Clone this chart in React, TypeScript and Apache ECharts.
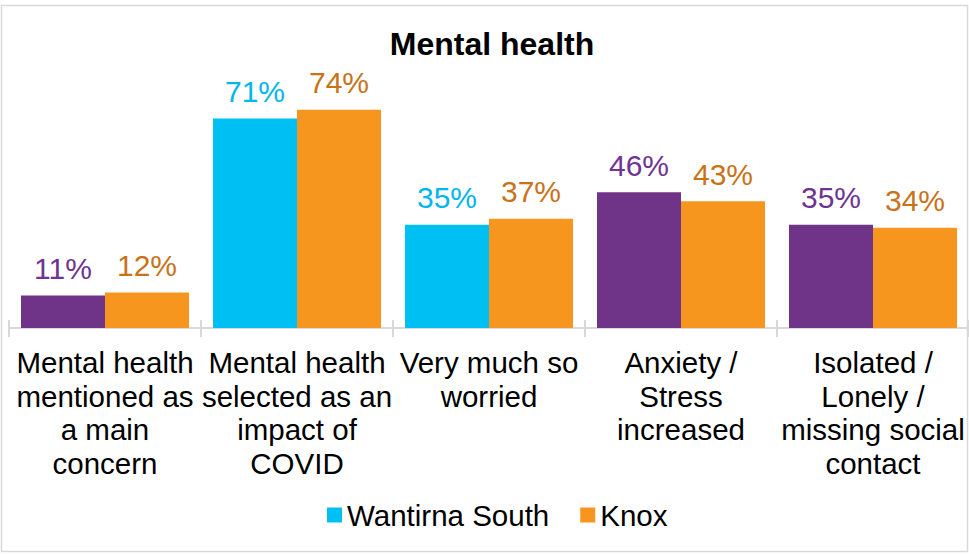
import React, { useEffect, useRef } from "react";
import * as echarts from "echarts";

const categories = [
  "Mental health\nmentioned as\na main\nconcern",
  "Mental health\nselected as an\nimpact of\nCOVID",
  "Very much so\nworried",
  "Anxiety /\nStress\nincreased",
  "Isolated /\nLonely /\nmissing social\ncontact",
];
const wantirnaSouth = [11, 71, 35, 46, 35];
const knox = [12, 74, 37, 43, 34];
const purpleIdx = [0, 3, 4];

const FONT = '"Liberation Sans", Arial, sans-serif';
const CYAN = "#00BFF3";
const CYAN_LABEL = "#00B6EE";
const PURPLE = "#6F3387";
const PURPLE_LABEL = "#6F3391";
const ORANGE = "#F7961F";
const ORANGE_LABEL = "#C8731A";

export default function App() {
  const ref = useRef<HTMLDivElement>(null);
  useEffect(() => {
    if (!ref.current) return;
    const chart = echarts.init(ref.current, undefined, { renderer: "svg" });
    const wsData = wantirnaSouth.map((v, i) =>
      purpleIdx.includes(i)
        ? { value: v, itemStyle: { color: PURPLE }, label: { color: PURPLE_LABEL } }
        : { value: v }
    );
    chart.setOption({
      animation: false,
      backgroundColor: "#fff",
      textStyle: { fontFamily: FONT },
      title: {
        text: "Mental health",
        left: 487,
        top: 23,
        textAlign: "center",
        textStyle: { fontFamily: FONT, fontSize: 32, fontWeight: "bold", color: "#000" },
      },
      legend: {
        data: ["Wantirna South", "Knox"],
        left: 322,
        top: 495,
        itemWidth: 15,
        itemHeight: 15,
        itemGap: 31,
        icon: "rect",
        textStyle: { fontFamily: FONT, fontSize: 29.5, color: "#000" },
      },
      grid: { left: 9, right: -2, top: 33, bottom: 226, containLabel: false },
      xAxis: [
        {
          type: "category",
          data: categories,
          axisLine: { lineStyle: { color: "#D9D9D9", width: 2 } },
          axisTick: { show: true, length: 9, lineStyle: { color: "#D9D9D9", width: 2 } },
          axisLabel: {
            color: "#000",
            fontFamily: FONT,
            fontSize: 29.5,
            lineHeight: 33.5,
            margin: 18,
            interval: 0,
            align: "center",
          },
        },
        {
          type: "category",
          data: categories,
          position: "bottom",
          axisLine: { show: false },
          axisTick: { show: true, inside: true, length: 8, lineStyle: { color: "#D9D9D9", width: 2 } },
          axisLabel: { show: false },
        },
      ],
      yAxis: { type: "value", min: 0, max: 100, show: false, splitLine: { show: false } },
      series: [
        {
          name: "Wantirna South",
          type: "bar",
          barWidth: 84,
          barGap: "0%",
          itemStyle: { color: CYAN },
          label: {
            show: true,
            position: "top",
            distance: 12,
            formatter: "{c}%",
            color: CYAN_LABEL,
            fontFamily: FONT,
            fontSize: 30,
          },
          data: wsData,
        },
        {
          name: "Knox",
          type: "bar",
          barWidth: 84,
          barGap: "0%",
          itemStyle: { color: ORANGE },
          label: {
            show: true,
            position: "top",
            distance: 12,
            formatter: "{c}%",
            color: ORANGE_LABEL,
            fontFamily: FONT,
            fontSize: 30,
          },
          data: knox,
        },
      ],
      graphic: [
        {
          type: "rect",
          shape: { x: 1.5, y: 5.5, width: 966, height: 546 },
          style: { fill: "none", stroke: "#D9D9D9", lineWidth: 1.5 },
          silent: true,
        },
      ],
    });
    return () => chart.dispose();
  }, []);
  return (
    <div
      ref={ref}
      style={{ position: "fixed", left: 0, top: 0, width: 969, height: 554 }}
    />
  );
}
